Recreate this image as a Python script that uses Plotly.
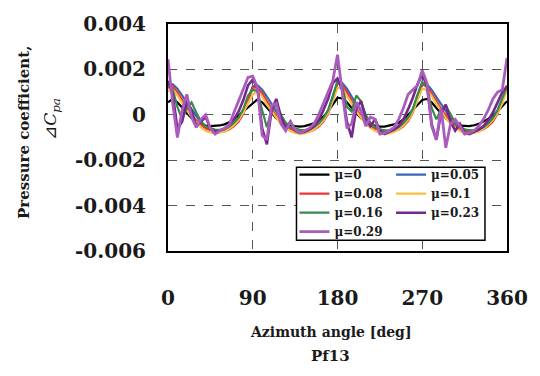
import plotly.graph_objects as go

# Azimuth angle [deg], sampled every 5 degrees
azimuth = list(range(0, 365, 5))

# Pressure coefficient ΔCpa (x 1e-3) for each advance ratio μ
cp_mu0 = [
    0.55, 0.70, 0.55, 0.30, 0.05, -0.15, -0.30, -0.40, -0.47, -0.50, -0.50, -0.47, -0.42, -0.33, -0.20, -0.02, 0.15, 0.33,
    0.50, 0.68, 0.55, 0.30, 0.05, -0.15, -0.30, -0.40, -0.47, -0.50, -0.52, -0.50, -0.45, -0.38, -0.25, -0.08, 0.15, 0.45,
    0.75, 0.72, 0.55, 0.30, 0.05, -0.15, -0.30, -0.42, -0.48, -0.52, -0.52, -0.48, -0.42, -0.35, -0.20, 0.00, 0.22, 0.45,
    0.65, 0.70, 0.55, 0.30, 0.05, -0.15, -0.32, -0.42, -0.48, -0.50, -0.50, -0.46, -0.40, -0.30, -0.18, -0.02, 0.15, 0.38,
    0.60,
]
cp_mu005 = [
    1.30, 1.35, 1.15, 0.85, 0.50, 0.20, -0.10, -0.35, -0.52, -0.62, -0.68, -0.70, -0.66, -0.56, -0.40, -0.18, 0.20, 0.75,
    1.25, 1.30, 1.10, 0.80, 0.45, 0.15, -0.15, -0.38, -0.55, -0.65, -0.70, -0.72, -0.68, -0.58, -0.42, -0.20, 0.20, 0.80,
    1.45, 1.40, 1.15, 0.80, 0.45, 0.15, -0.15, -0.40, -0.58, -0.68, -0.72, -0.72, -0.68, -0.58, -0.40, -0.15, 0.25, 0.85,
    1.40, 1.35, 1.10, 0.78, 0.45, 0.15, -0.15, -0.40, -0.58, -0.66, -0.70, -0.70, -0.65, -0.55, -0.38, -0.15, 0.20, 0.70,
    1.20,
]
cp_mu008 = [
    1.20, 1.25, 1.00, 0.65, 0.30, 0.00, -0.25, -0.45, -0.60, -0.68, -0.72, -0.74, -0.72, -0.65, -0.50, -0.30, 0.05, 0.60,
    1.20, 1.20, 0.95, 0.60, 0.25, -0.05, -0.30, -0.50, -0.62, -0.70, -0.74, -0.76, -0.74, -0.66, -0.52, -0.30, 0.05, 0.65,
    1.40, 1.30, 1.00, 0.60, 0.25, -0.05, -0.30, -0.50, -0.63, -0.70, -0.74, -0.75, -0.72, -0.65, -0.50, -0.28, 0.10, 0.75,
    1.35, 1.25, 0.95, 0.60, 0.25, -0.05, -0.30, -0.50, -0.62, -0.70, -0.74, -0.75, -0.72, -0.64, -0.50, -0.30, 0.05, 0.60,
    1.30,
]
cp_mu01 = [
    1.05, 1.10, 0.85, 0.50, 0.20, -0.10, -0.35, -0.55, -0.70, -0.78, -0.82, -0.80, -0.75, -0.62, -0.45, -0.22, 0.10, 0.50,
    0.90, 1.05, 0.80, 0.45, 0.15, -0.15, -0.40, -0.58, -0.72, -0.80, -0.84, -0.82, -0.76, -0.64, -0.48, -0.25, 0.10, 0.60,
    1.20, 1.15, 0.85, 0.50, 0.15, -0.15, -0.40, -0.58, -0.72, -0.80, -0.84, -0.82, -0.76, -0.64, -0.46, -0.22, 0.12, 0.65,
    1.15, 1.10, 0.82, 0.48, 0.15, -0.15, -0.40, -0.58, -0.72, -0.80, -0.83, -0.80, -0.74, -0.62, -0.45, -0.22, 0.08, 0.50,
    1.10,
]
cp_mu016 = [
    1.35, 1.10, 0.35, -0.20, 0.30, 0.55, 0.10, -0.30, -0.50, -0.60, -0.65, -0.66, -0.62, -0.52, -0.35, -0.12, 0.25, 0.85,
    1.10, 1.05, 0.20, -0.55, 0.20, 0.45, 0.00, -0.35, -0.55, -0.62, -0.66, -0.68, -0.64, -0.54, -0.38, -0.15, 0.20, 0.80,
    1.50, 1.25, 0.35, 0.15, 0.85, 0.60, 0.00, -0.35, -0.55, -0.64, -0.68, -0.68, -0.64, -0.54, -0.36, -0.12, 0.25, 0.90,
    1.45, 1.20, 0.30, -0.20, 0.25, 0.40, 0.00, -0.35, -0.55, -0.64, -0.68, -0.68, -0.64, -0.55, -0.38, -0.15, 0.20, 0.75,
    1.25,
]
cp_mu023 = [
    1.50, 0.90, -0.60, -0.30, 0.60, 0.20, -0.50, -0.30, -0.10, -0.60, -0.75, -0.70, -0.60, -0.45, -0.20, 0.15, 0.65, 1.30,
    1.55, 1.20, -0.60, -1.30, 0.20, 0.70, -0.10, -0.60, -0.30, -0.70, -0.80, -0.75, -0.65, -0.50, -0.25, 0.20, 0.70, 1.40,
    1.60, 1.10, -0.30, -1.00, 0.30, 0.60, -0.20, -0.50, -0.20, -0.70, -0.85, -0.75, -0.65, -0.50, -0.20, 0.25, 0.75, 1.35,
    1.75, 1.30, -0.40, -1.10, 0.10, 0.45, -0.30, -0.70, -0.40, -0.80, -0.85, -0.75, -0.65, -0.50, -0.25, 0.10, 0.55, 1.00,
    1.25,
]
cp_mu029 = [
    2.45, 0.50, -1.00, 0.20, 0.90, -0.10, -0.55, -0.20, 0.00, -0.60, -0.85, -0.70, -0.60, -0.45, 0.10, 0.60, 1.15, 1.65,
    1.70, 1.20, -0.90, -1.10, 0.40, 0.50, -0.40, -0.70, -0.30, -0.65, -0.80, -0.70, -0.60, -0.40, 0.00, 0.50, 1.00, 1.50,
    2.65, 1.00, -0.60, -0.40, 0.55, 0.20, -0.50, -0.10, -0.20, -0.85, -0.80, -0.70, -0.55, -0.20, 0.30, 0.90, 1.10, 1.30,
    1.95, 1.40, -0.50, -1.10, 0.30, -1.45, -0.40, -0.20, -0.50, -0.85, -0.80, -0.70, -0.50, -0.20, 0.20, 0.70, 1.00, 1.10,
    2.50,
]

series_names = ["μ=0", "μ=0.05", "μ=0.08", "μ=0.1", "μ=0.16", "μ=0.23", "μ=0.29"]
series_values = [cp_mu0, cp_mu005, cp_mu008, cp_mu01, cp_mu016, cp_mu023, cp_mu029]
series_colors = ["#000000", "#3a66b8", "#ee3434", "#f5c040", "#37894c", "#74288a", "#a95cbc"]
series_widths = [2.2, 2.2, 2.2, 2.2, 2.2, 2.6, 2.8]
# first legend column / second legend column
series_legend = ["legend", "legend2", "legend", "legend2", "legend", "legend2", "legend"]

x_ticks = [0, 90, 180, 270, 360]
x_tick_labels = ["0", "90", "180", "270", "360"]
y_ticks = [0.004, 0.002, 0.0, -0.002, -0.004, -0.006]
y_tick_labels = ["0.004", "0.002", "0", "-0.002", "-0.004", "-0.006"]

SERIF = "DejaVu Serif"
INK = "#1a1a1a"

fig = go.Figure()
for name, vals, color, width, leg in zip(series_names, series_values, series_colors,
                                         series_widths, series_legend):
    fig.add_trace(go.Scatter(
        x=azimuth,
        y=[v * 1e-3 for v in vals],
        mode="lines",
        name=name,
        line=dict(color=color, width=width),
        legend=leg,
    ))

legend_font = dict(family=SERIF, size=12, color=INK, weight="bold")

fig.update_layout(
    width=540,
    height=376,
    margin=dict(l=168, r=32, t=18, b=125),
    paper_bgcolor="white",
    plot_bgcolor="white",
    showlegend=True,
    legend=dict(
        x=0.373, y=0.40, xanchor="left", yanchor="top",
        bgcolor="rgba(0,0,0,0)", borderwidth=0, font=legend_font,
        tracegroupgap=0,
    ),
    legend2=dict(
        x=0.658, y=0.40, xanchor="left", yanchor="top",
        bgcolor="rgba(0,0,0,0)", borderwidth=0, font=legend_font,
        tracegroupgap=0,
    ),
    xaxis=dict(
        range=[0, 360],
        tickvals=x_ticks,
        ticktext=x_tick_labels,
        ticks="",
        ticklabelstandoff=28,
        tickfont=dict(family=SERIF, size=20, color=INK, weight="bold"),
        showgrid=True,
        gridcolor="#555555",
        griddash="dash",
        gridwidth=1,
        showline=True,
        linecolor="black",
        linewidth=2,
        mirror=True,
        zeroline=False,
    ),
    yaxis=dict(
        range=[-0.006, 0.004],
        tickvals=y_ticks,
        ticktext=y_tick_labels,
        ticks="",
        ticklabelstandoff=16,
        tickfont=dict(family=SERIF, size=20, color=INK, weight="bold"),
        showgrid=True,
        gridcolor="#555555",
        griddash="dash",
        gridwidth=1,
        showline=True,
        linecolor="black",
        linewidth=2,
        mirror=True,
        zeroline=False,
    ),
    shapes=[
        dict(type="rect", xref="paper", yref="paper",
             x0=0.379, x1=0.935, y0=0.047, y1=0.369,
             line=dict(color="black", width=1.5),
             fillcolor="white", layer="above"),
    ],
    annotations=[
        dict(text="Azimuth angle [deg]", xref="paper", yref="paper",
             x=0.48, y=0, yshift=-91, showarrow=False,
             font=dict(family=SERIF, size=14, color=INK, weight="bold")),
        dict(text="Pf13", xref="paper", yref="paper",
             x=0.48, y=0, yshift=-116, showarrow=False,
             font=dict(family=SERIF, size=15, color=INK, weight="bold")),
        dict(text="Pressure coefficient,", xref="paper", yref="paper",
             x=0, xshift=-155, y=0.52, textangle=-90, showarrow=False,
             font=dict(family=SERIF, size=15, color=INK, weight="bold")),
        dict(text="⊿<i>C<sub>pa</sub></i>", xref="paper", yref="paper",
             x=0, xshift=-130, y=0.58, textangle=-90, showarrow=False,
             font=dict(family=SERIF, size=17, color=INK)),
    ],
)

fig.write_html("out.html")
